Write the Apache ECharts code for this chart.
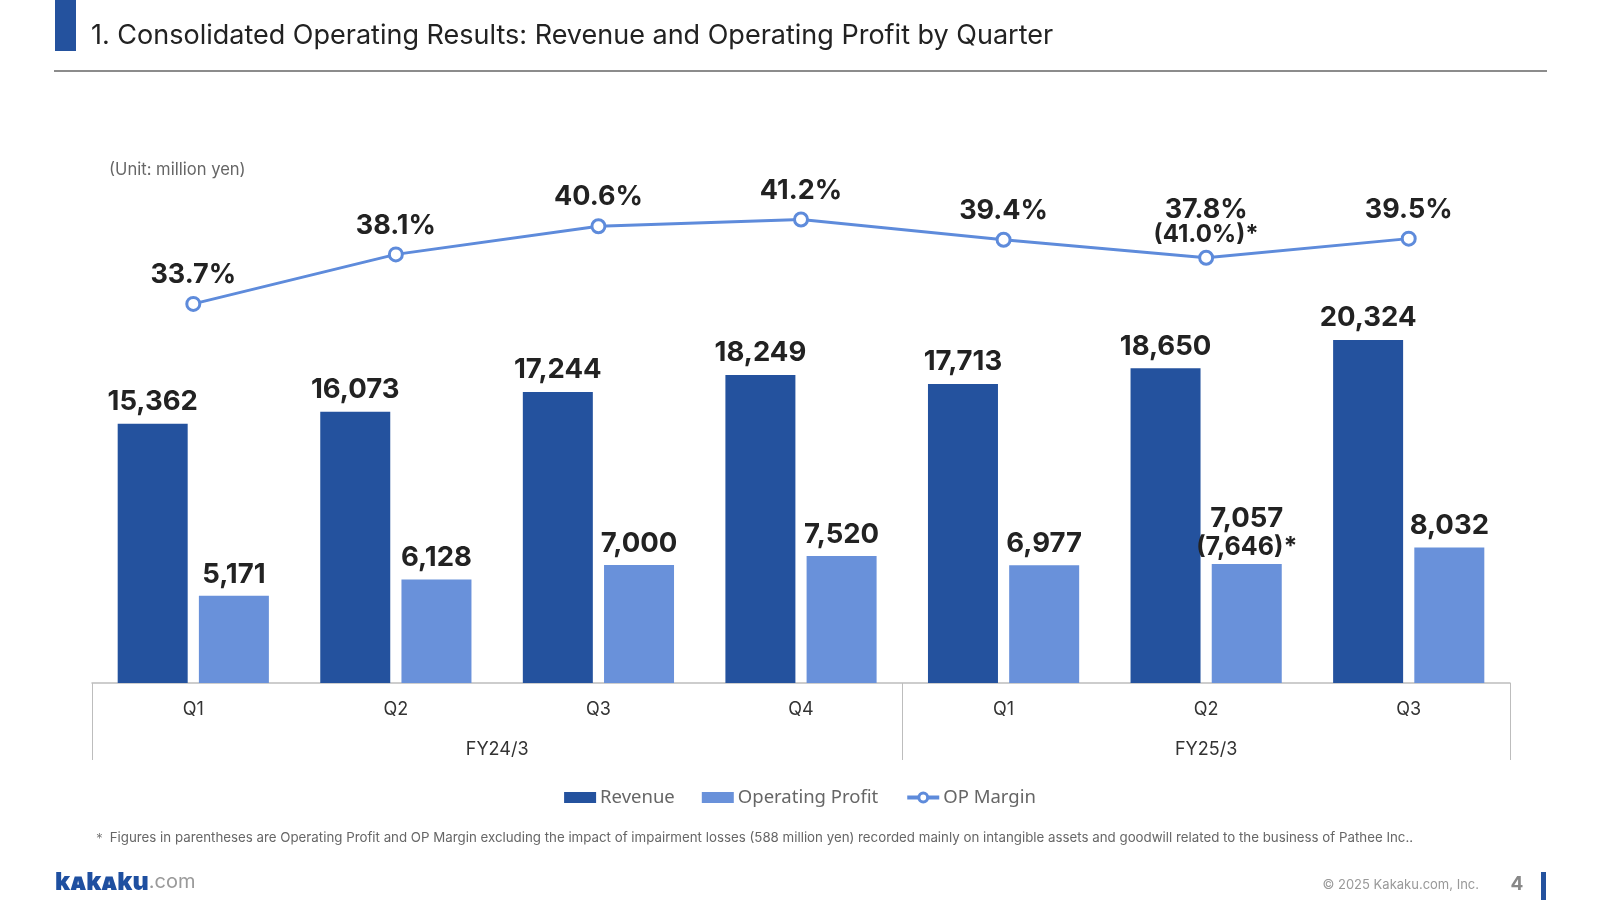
<!DOCTYPE html>
<html>
<head>
<meta charset="utf-8">
<script src="https://cdn.jsdelivr.net/npm/echarts@6/dist/echarts.min.js"></script>
<style>
html,body{margin:0;padding:0;background:#fff;}
#chart{width:1600px;height:900px;}
</style>
</head>
<body>
<div id="chart"></div>
<script>
// ---- data ----
const quarters = ['Q1', 'Q2', 'Q3', 'Q4', 'Q1', 'Q2', 'Q3'];
const fiscalYears = ['FY24/3', 'FY25/3'];
const fiscalYearSizes = [4, 3];
const revenue = [15362, 16073, 17244, 18249, 17713, 18650, 20324];
const opProfit = [5171, 6128, 7000, 7520, 6977, 7057, 8032];
const opProfitAdj = [null, null, null, null, null, 7646, null];
const opMargin = [33.7, 38.1, 40.6, 41.2, 39.4, 37.8, 39.5];
const opMarginAdj = [null, null, null, null, null, 41.0, null];
const seriesNames = ['Revenue', 'Operating Profit', 'OP Margin'];

// ---- helpers ----
const fmt = v => v.toLocaleString('en-US');
const boundaries = [0];
fiscalYearSizes.forEach(s => boundaries.push(boundaries[boundaries.length - 1] + s));
const groupCenters = fiscalYearSizes.map((s, i) => boundaries[i] + s / 2);

const C_REV = '#24529E';
const C_OP = '#6991DA';
const C_LINE = '#5E8BDB';
const FONT = 'Inter, "Noto Sans", sans-serif';

const chart = echarts.init(document.getElementById('chart'));

const marginData = opMargin.map((v, i) => {
  if (opMarginAdj[i] != null) {
    return { value: v, label: { distance: 3 } };
  }
  return v;
});
const opData = opProfit.map((v, i) => {
  if (opProfitAdj[i] != null) {
    return { value: v, label: { distance: 2 } };
  }
  return v;
});

const option = {
  animation: false,
  backgroundColor: '#fff',
  textStyle: { fontFamily: FONT },
  grid: { left: 92, right: 90, top: 8, bottom: 217, containLabel: false },
  legend: {
    top: 783,
    left: 'center',
    itemGap: 27,
    itemWidth: 32,
    itemHeight: 11,
    textStyle: { fontFamily: '"Noto Sans", sans-serif', fontSize: 18.5, color: '#666', padding: [0, 0, 0, -1] },
    data: [
      { name: seriesNames[0], icon: 'rect' },
      { name: seriesNames[1], icon: 'rect' },
      { name: seriesNames[2], lineStyle: { width: 4 }, itemStyle: { borderWidth: 3 } }
    ]
  },
  xAxis: [
    {
      type: 'category',
      data: quarters,
      axisLine: { lineStyle: { color: '#bdbdbd', width: 1.5 } },
      axisTick: { show: false },
      axisLabel: { fontSize: 18, color: '#333', margin: 18, fontFamily: FONT }
    },
    {
      type: 'value',
      min: 0,
      max: quarters.length,
      position: 'bottom',
      axisLine: { show: false },
      splitLine: { show: false },
      axisTick: {
        show: true,
        customValues: boundaries,
        length: 77,
        lineStyle: { color: '#bdbdbd', width: 1 }
      },
      axisLabel: {
        customValues: groupCenters,
        formatter: v => {
          const i = groupCenters.indexOf(v);
          return i >= 0 ? fiscalYears[i] : '';
        },
        fontSize: 18,
        color: '#333',
        margin: 58,
        fontFamily: FONT
      }
    }
  ],
  yAxis: [
    { type: 'value', min: 0, max: 40000, show: false },
    { type: 'value', min: 0, max: 60, show: false }
  ],
  series: [
    {
      name: seriesNames[0],
      type: 'bar',
      data: revenue,
      barWidth: 70,
      barGap: '16%',
      itemStyle: { color: C_REV },
      label: {
        show: true,
        position: 'top',
        distance: 8,
        fontSize: 27.5,
        fontWeight: 'bold',
        color: '#222',
        fontFamily: FONT,
        formatter: p => fmt(p.value)
      }
    },
    {
      name: seriesNames[1],
      type: 'bar',
      data: opData,
      barWidth: 70,
      itemStyle: { color: C_OP },
      label: {
        show: true,
        position: 'top',
        distance: 7,
        fontSize: 27.5,
        fontWeight: 'bold',
        color: '#222',
        fontFamily: FONT,
        lineHeight: 29,
        formatter: p => {
          const adj = opProfitAdj[p.dataIndex];
          return fmt(p.value) + (adj != null ? '\n{s|(' + fmt(adj) + ')*}' : '');
        },
        rich: {
          s: { fontSize: 25, fontWeight: 'bold', color: '#222', fontFamily: FONT, lineHeight: 29 }
        }
      }
    },
    {
      name: seriesNames[2],
      type: 'line',
      yAxisIndex: 1,
      data: marginData,
      symbol: 'circle',
      symbolSize: 13,
      lineStyle: { color: C_LINE, width: 3 },
      itemStyle: { color: '#fff', borderColor: C_LINE, borderWidth: 3 },
      label: {
        show: true,
        position: 'top',
        distance: 8,
        fontSize: 27,
        fontWeight: 'bold',
        color: '#222',
        fontFamily: FONT,
        lineHeight: 26,
        formatter: p => {
          const adj = opMarginAdj[p.dataIndex];
          return Number(p.value).toFixed(1) + '%' + (adj != null ? '\n{s|(' + adj.toFixed(1) + '%)*}' : '');
        },
        rich: {
          s: { fontSize: 24, fontWeight: 'bold', color: '#222', fontFamily: FONT, lineHeight: 24 }
        }
      }
    }
  ],
  graphic: [
    { type: 'rect', shape: { x: 55, y: 0, width: 21, height: 51 }, style: { fill: '#24529E' } },
    { type: 'text', x: 91, y: 36, style: { text: '1. Consolidated Operating Results: Revenue and Operating Profit by Quarter', font: '27px Inter, sans-serif', fill: '#222', textVerticalAlign: 'middle' } },
    { type: 'rect', shape: { x: 54, y: 70, width: 1493, height: 2 }, style: { fill: '#8c8c8c' } },
    { type: 'text', x: 109, y: 170, style: { text: '(Unit: million yen)', font: '16.6px Inter, sans-serif', fill: '#666', textVerticalAlign: 'middle' } },
    { type: 'text', x: 93, y: 838, style: { text: '\uFF0A Figures in parentheses are Operating Profit and OP Margin excluding the impact of impairment losses (588 million yen) recorded mainly on intangible assets and goodwill related to the business of Pathee Inc..', font: '13.3px Inter, sans-serif', fill: '#666', textVerticalAlign: 'middle' } },
    { type: 'text', x: 55, y: 882, style: { text: '{a|kakaku}{b|.com}', rich: { a: { font: 'small-caps 900 25px Inter, sans-serif', fill: '#1E4FA0' }, b: { font: '20px Inter, sans-serif', fill: '#9a9a9a' } }, textVerticalAlign: 'middle' } },
    { type: 'text', x: 1479, y: 885, style: { text: '\u00A9 2025 Kakaku.com, Inc.', font: '13px Inter, sans-serif', fill: '#999', textAlign: 'right', textVerticalAlign: 'middle' } },
    { type: 'text', x: 1517, y: 884, style: { text: '4', font: 'bold 19px Inter, sans-serif', fill: '#888', textAlign: 'center', textVerticalAlign: 'middle' } },
    { type: 'rect', shape: { x: 1541, y: 872, width: 5, height: 28 }, style: { fill: '#24529E' } }
  ]
};

chart.setOption(option);
</script>
</body>
</html>
